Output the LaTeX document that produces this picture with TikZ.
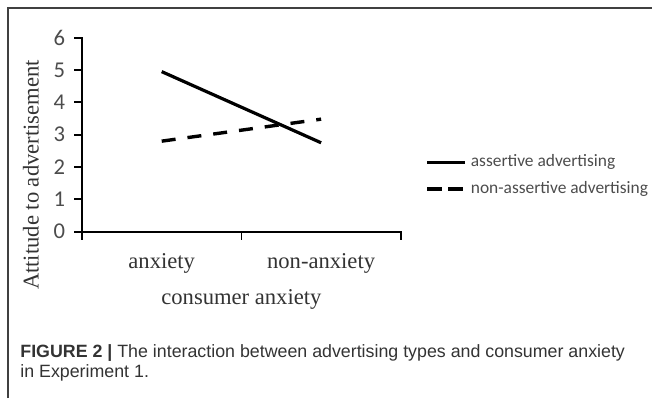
\documentclass[tikz,border=0pt]{standalone}
\usepackage{fontspec}
\setmainfont{Liberation Serif}
\newfontfamily\calibrifont{Carlito}
\newfontfamily\captionfont{Liberation Sans}
\usetikzlibrary{positioning}

\begin{document}
\begin{tikzpicture}[x=0.5pt, y=-0.5pt,
    axisline/.style={line width=1pt, line cap=rect},
    ticklabel/.style={font=\calibrifont\fontsize{11.3}{12}\selectfont, text=black!70, inner sep=0pt},
    catlabel/.style={font=\fontsize{11.3}{12}\selectfont, text=black!80, inner sep=0pt},
    legendtext/.style={font=\calibrifont\fontsize{8.7}{10}\selectfont, text=black!70, inner sep=0pt},
    solidseries/.style={line width=1.6pt},
    dashedseries/.style={line width=1.7pt, dash pattern=on 7pt off 6pt},
    legenddash/.style={line width=1.6pt, dash pattern=on 7.3pt off 3.2pt},
    captiontext/.style={font=\captionfont\fontsize{8.9}{10}\selectfont, text=black!80, inner sep=0pt, anchor=base west}]
    \useasboundingbox (0,0) rectangle (652,398);

    % frame
    \draw[black!75, line width=1pt] (8,398) -- (8,8) -- (652,8);

    % plot area, one x unit = half a category, one y unit = one scale point
    \begin{scope}[shift={(82,231.7)}, x=39.85pt, y=16.17pt]
        \draw[axisline] (0,6) -- (0,0) -- (4,0);
        \foreach \v in {0,...,6} {
            \draw[line width=0.9pt] (0,\v) -- (-0.1,\v) node[ticklabel, left=4pt] (ytick\v) {\v};
        }
        \foreach \c in {0,2,4} {
            \draw[line width=0.9pt] (\c,0) -- (\c,-0.26);
        }

        \node[catlabel, anchor=base] (anx) at (1,-1.13) {anxiety};
        \node[catlabel, anchor=base] (nonanx) at (3,-1.13) {non-anxiety};
        \node[catlabel, anchor=base] (xtitle) at (2,-2.24) {consumer anxiety};
        \node[catlabel, rotate=90] (ytitle) at (-0.64,1.75) {Attitude to advertisement};

        \draw[solidseries] (1,4.95) -- (3,2.75);
        \draw[dashedseries] (1,2.8) -- (3,3.48);
    \end{scope}

    % legend
    \coordinate (legA) at (427,162.3);
    \coordinate (legAend) at (464.5,162.3);
    \coordinate (legB) at (427,189);
    \coordinate (legBend) at (464.5,189);
    \draw[solidseries] (legA) -- (legAend);
    \draw[legenddash] (legB) -- (legBend);
    \node[legendtext, right=3pt of legAend] (legAtext) {assertive advertising};
    \node[legendtext, right=3pt of legBend] (legBtext) {non-assertive advertising};

    % caption
    \node[captiontext] (capA) at (20,357) {\textbf{FIGURE 2 |} The interaction between advertising types and consumer anxiety};
    \node[captiontext] (capB) at (20,377) {in Experiment 1.};
\end{tikzpicture}
\end{document}
